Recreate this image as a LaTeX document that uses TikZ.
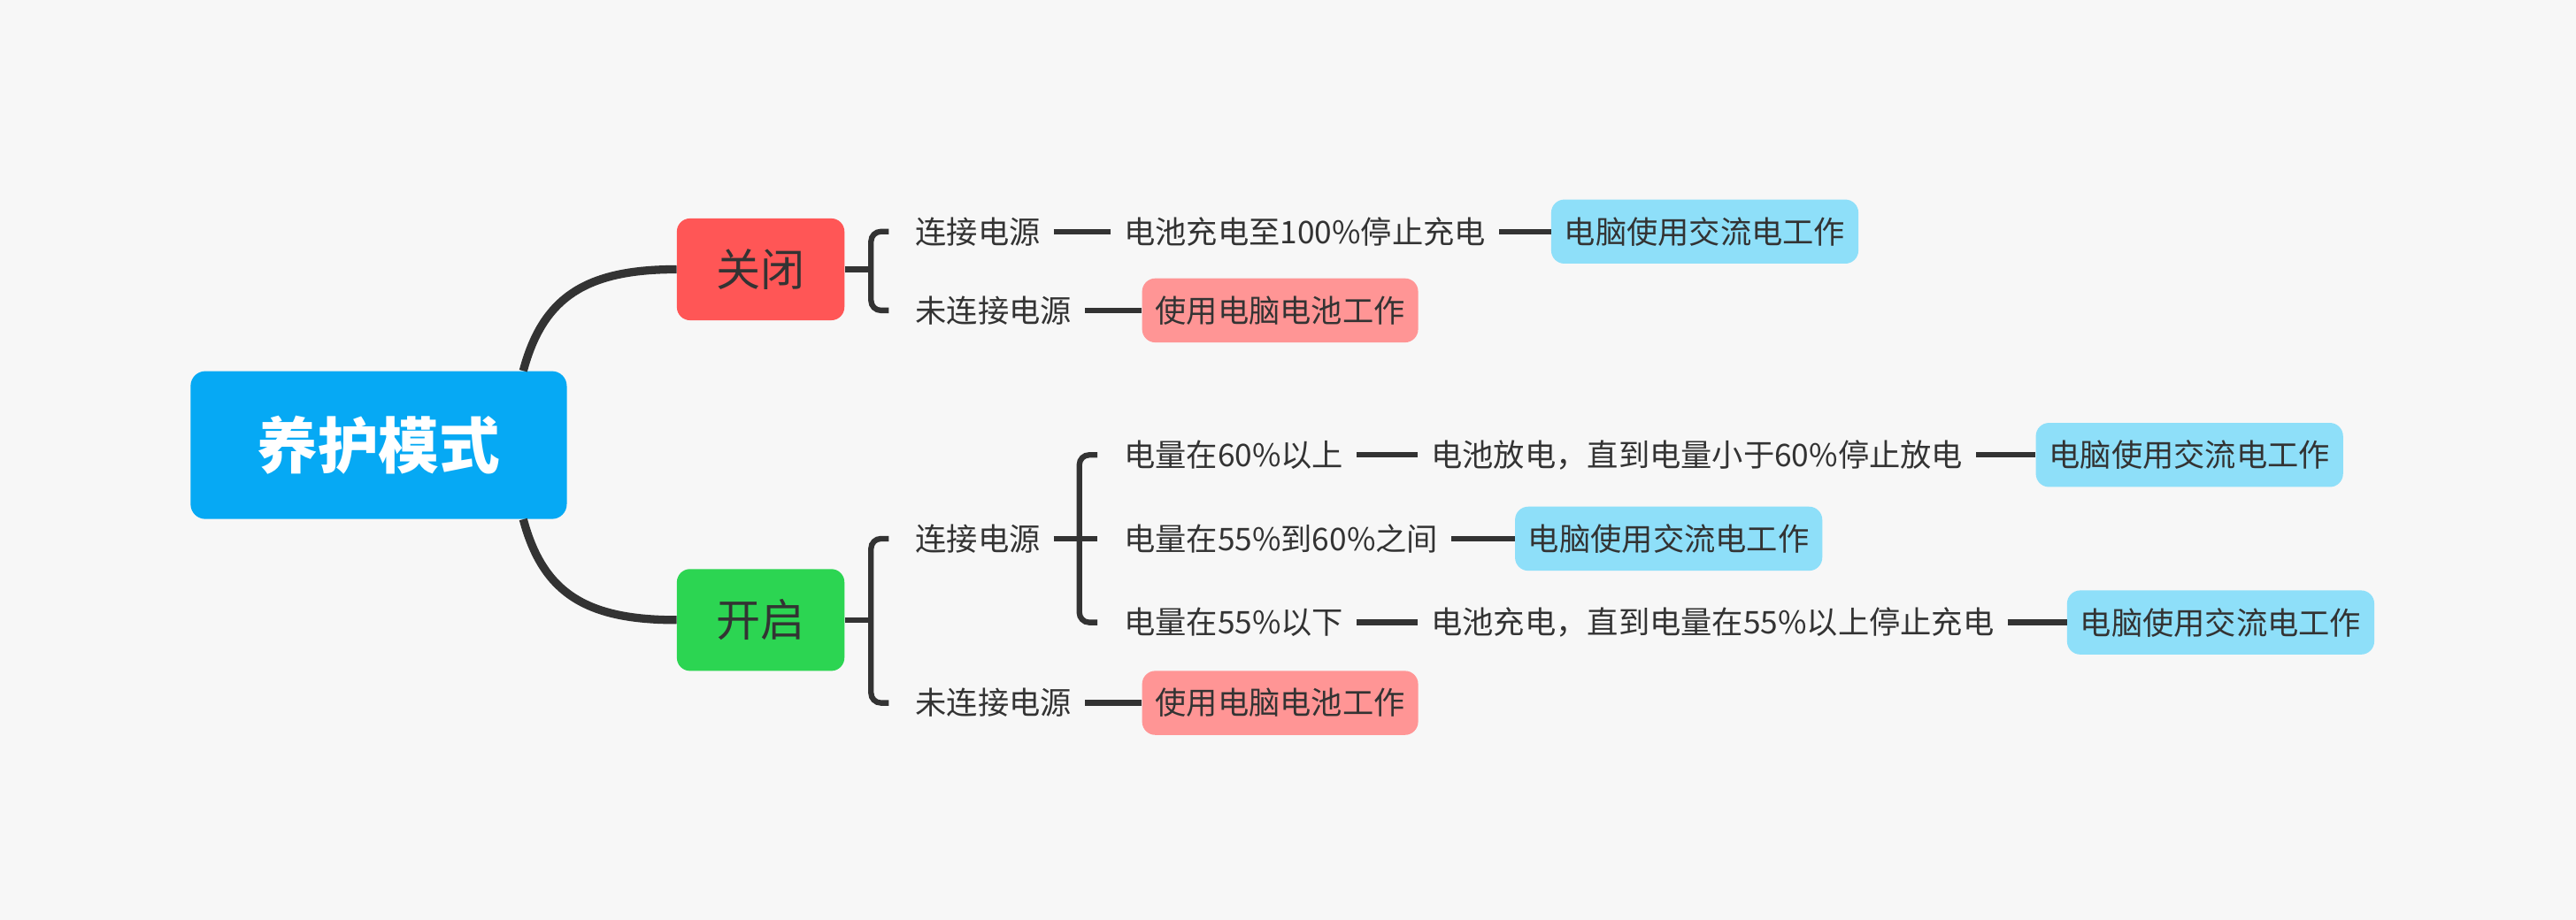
\documentclass[tikz,border=0pt]{standalone}
\usepackage{fontspec}
\setmainfont{Noto Sans CJK SC}
\definecolor{bg}{HTML}{F7F7F7}
\definecolor{rootc}{HTML}{06A9F4}
\definecolor{redc}{HTML}{FF5656}
\definecolor{greenc}{HTML}{2CD552}
\definecolor{bluec}{HTML}{8EDFF9}
\definecolor{pinkc}{HTML}{FF9595}
\definecolor{ink}{HTML}{333333}
\tikzset{
  lbl/.style={anchor=west, inner xsep=8pt, inner ysep=0pt, text=ink, font=\fontsize{19}{19}\selectfont},
  leafbox/.style={anchor=west, rounded corners=8pt, inner xsep=8pt, minimum height=39pt, text=ink, font=\fontsize{19}{19}\selectfont},
  bluebox/.style={leafbox, fill=bluec, minimum width=186pt},
  pinkbox/.style={leafbox, fill=pinkc, minimum width=166pt},
  midbox/.style={rounded corners=8pt, minimum width=102pt, minimum height=62pt, text=ink, font=\fontsize{27}{27}\selectfont},
  rootbox/.style={rounded corners=9pt, fill=rootc, minimum width=229pt, minimum height=90pt, text=white, font=\fontsize{37}{37}\selectfont\bfseries},
  conn/.style={draw=ink, line width=3.4pt},
  mainc/.style={draw=ink, line width=5pt},
  brk/.style={conn, rounded corners=6pt},
}
\begin{document}
\begin{tikzpicture}[x=1pt,y=-1pt]
\fill[bg] (0,0) rectangle (1568,560);
\useasboundingbox (0,0) rectangle (1568,560);

% root and first level
\node[rootbox] (root) at (230.5,271) {养护模式};
\node[midbox, fill=redc] (gb) at (463,164) {关闭};
\node[midbox, fill=greenc] (kq) at (463,377.5) {开启};

\draw[mainc] ([xshift=88pt]root.north) .. controls +(12,-45) and +(-55,0) .. (gb.west);
\draw[mainc] ([xshift=88pt]root.south) .. controls +(12,45) and +(-55,0) .. (kq.west);

% 关闭 branch
\node[lbl] (g1) at (549,141) {连接电源};
\node[lbl] (g2) at (549,189) {未连接电源};
\node[lbl] (g1a) at (676,141) {电池充电至100\%停止充电};
\node[bluebox] (g1b) at (944,141) {电脑使用交流电工作};
\node[pinkbox] (g2a) at (695,189) {使用电脑电池工作};

\draw[conn] (gb.east) -- ++(16,0) coordinate (gbk);
\draw[brk] ([xshift=-8pt]g1.west) -| (gbk) |- ([xshift=-8pt]g2.west);
\draw[conn] (g1.east) -- (g1a.west);
\draw[conn] (g1a.east) -- (g1b.west);
\draw[conn] (g2.east) -- (g2a.west);

% 开启 branch
\node[lbl] (k1) at (549,328) {连接电源};
\node[lbl] (k2) at (549,428) {未连接电源};
\node[pinkbox] (k2a) at (695,428) {使用电脑电池工作};

\node[lbl] (m1) at (676,277) {电量在60\%以上};
\node[lbl] (m2) at (676,328) {电量在55\%到60\%之间};
\node[lbl] (m3) at (676,379) {电量在55\%以下};

\node[lbl] (m1a) at (863,277) {电池放电，直到电量小于60\%停止放电};
\node[bluebox] (m1b) at (1239,277) {电脑使用交流电工作};
\node[bluebox] (m2a) at (922,328) {电脑使用交流电工作};
\node[lbl] (m3a) at (863,379) {电池充电，直到电量在55\%以上停止充电};
\node[bluebox] (m3b) at (1258,379) {电脑使用交流电工作};

\draw[conn] (kq.east) -- ++(16,0) coordinate (kqk);
\draw[brk] ([xshift=-8pt]k1.west) -| (kqk) |- ([xshift=-8pt]k2.west);
\draw[conn] (k2.east) -- (k2a.west);

\draw[conn] (k1.east) -- ([xshift=-8pt]m2.west);
\coordinate (kmk) at ([xshift=-19pt]m2.west);
\draw[brk] ([xshift=-8pt]m1.west) -| (kmk) |- ([xshift=-8pt]m3.west);

\draw[conn] (m1.east) -- (m1a.west);
\draw[conn] (m1a.east) -- (m1b.west);
\draw[conn] (m2.east) -- (m2a.west);
\draw[conn] (m3.east) -- (m3a.west);
\draw[conn] (m3a.east) -- (m3b.west);
\end{tikzpicture}
\end{document}
